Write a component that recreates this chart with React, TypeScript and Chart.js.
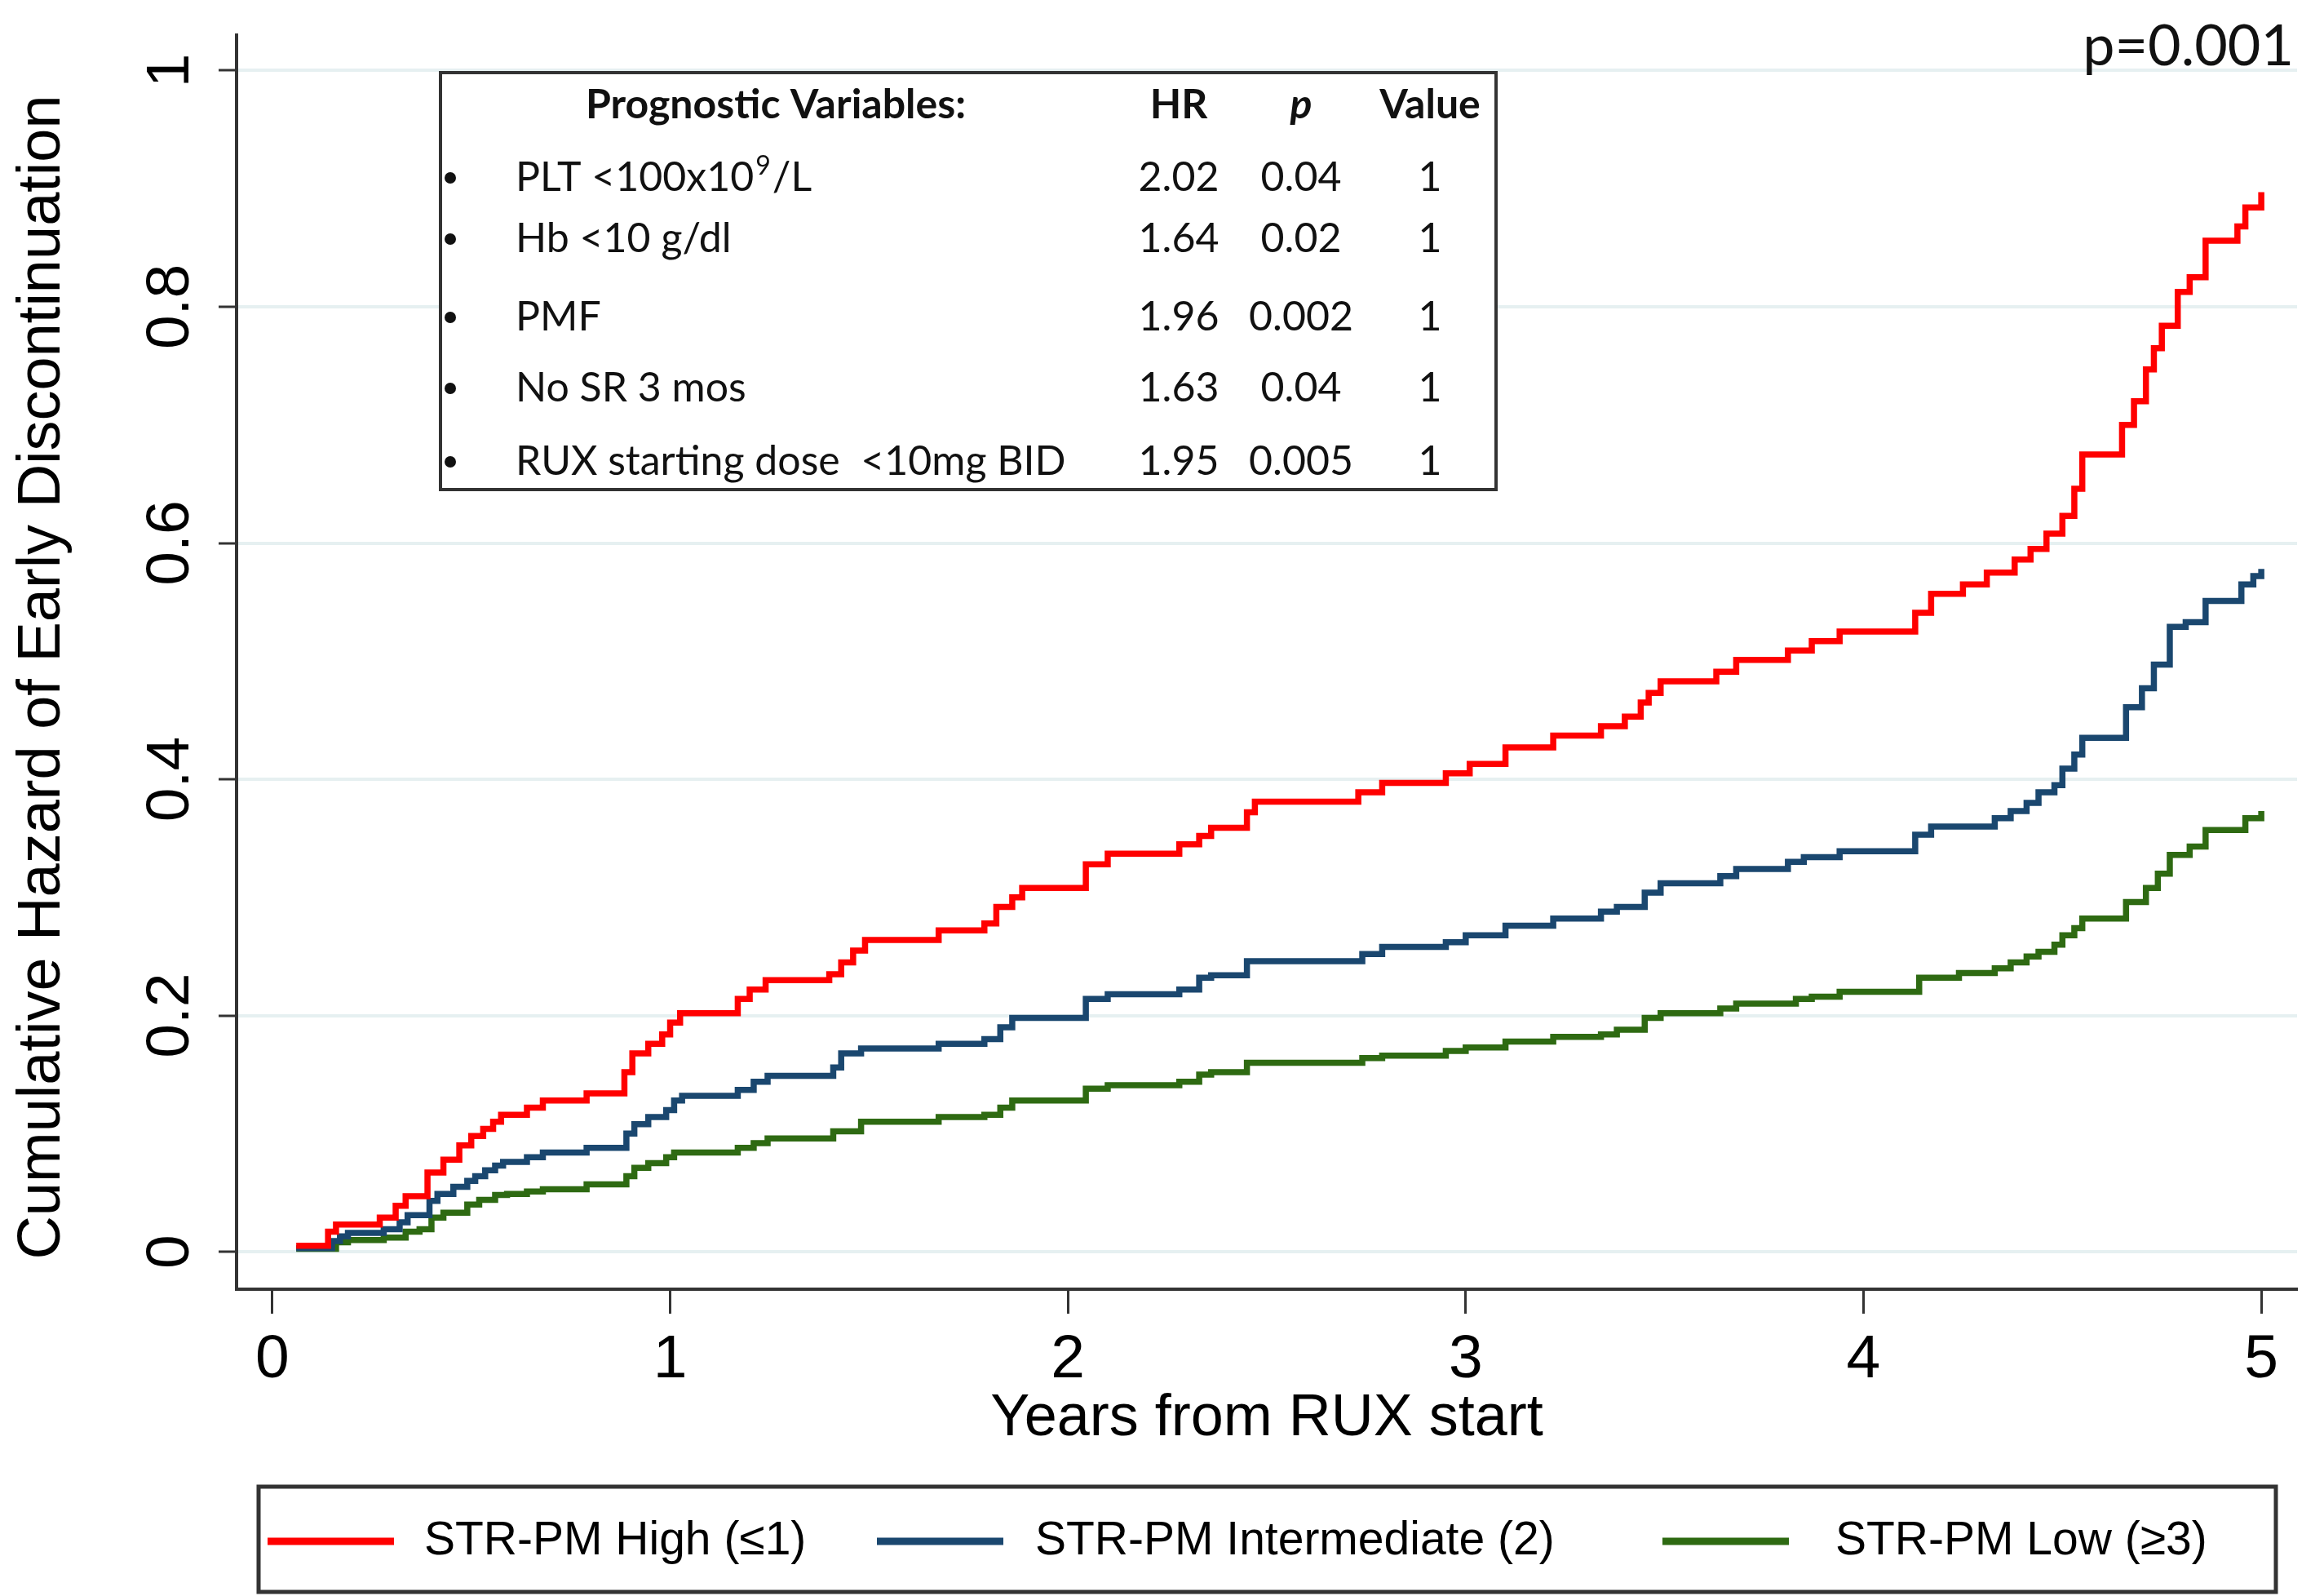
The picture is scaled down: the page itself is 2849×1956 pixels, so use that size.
import React, { useEffect, useRef } from "react";
import { Chart, registerables } from "chart.js";

Chart.register(...registerables);

// ---------------- data ----------------
const highTimes = [0.06, 0.14, 0.16, 0.27, 0.31, 0.335, 0.39, 0.43, 0.47, 0.5, 0.53, 0.555, 0.575, 0.64, 0.68, 0.79, 0.885, 0.905, 0.945, 0.98, 1.0, 1.025, 1.17, 1.2, 1.24, 1.4, 1.43, 1.46, 1.49, 1.675, 1.79, 1.82, 1.86, 1.885, 2.045, 2.1, 2.28, 2.33, 2.36, 2.45, 2.47, 2.73, 2.79, 2.95, 3.01, 3.1, 3.22, 3.34, 3.4, 3.44, 3.46, 3.49, 3.63, 3.68, 3.81, 3.87, 3.94, 4.13, 4.17, 4.25, 4.31, 4.38, 4.42, 4.46, 4.5, 4.53, 4.55, 4.65, 4.68, 4.71, 4.73, 4.75, 4.79, 4.82, 4.86, 4.94, 4.96, 5.0];
const highValues = [0.005, 0.017, 0.023, 0.029, 0.039, 0.047, 0.067, 0.078, 0.09, 0.098, 0.104, 0.11, 0.116, 0.122, 0.128, 0.134, 0.152, 0.168, 0.176, 0.184, 0.194, 0.202, 0.214, 0.222, 0.23, 0.235, 0.245, 0.255, 0.264, 0.272, 0.278, 0.292, 0.3, 0.308, 0.328, 0.337, 0.345, 0.352, 0.359, 0.372, 0.381, 0.389, 0.397, 0.405, 0.413, 0.427, 0.437, 0.445, 0.453, 0.465, 0.473, 0.483, 0.491, 0.501, 0.509, 0.517, 0.525, 0.541, 0.557, 0.565, 0.575, 0.586, 0.595, 0.608, 0.623, 0.646, 0.675, 0.7, 0.72, 0.747, 0.765, 0.784, 0.8125, 0.825, 0.856, 0.868, 0.884, 0.897];

const intermediateTimes = [0.06, 0.15, 0.17, 0.19, 0.28, 0.32, 0.34, 0.395, 0.415, 0.455, 0.49, 0.51, 0.535, 0.56, 0.58, 0.64, 0.68, 0.79, 0.89, 0.91, 0.945, 0.99, 1.01, 1.03, 1.17, 1.21, 1.245, 1.41, 1.43, 1.48, 1.675, 1.79, 1.83, 1.86, 2.045, 2.1, 2.28, 2.33, 2.36, 2.45, 2.74, 2.79, 2.95, 3.0, 3.1, 3.22, 3.34, 3.38, 3.45, 3.49, 3.64, 3.68, 3.81, 3.85, 3.94, 4.13, 4.17, 4.33, 4.37, 4.41, 4.44, 4.48, 4.5, 4.53, 4.55, 4.66, 4.7, 4.73, 4.77, 4.81, 4.86, 4.95, 4.98, 5.0];
const intermediateValues = [0.003, 0.009, 0.013, 0.016, 0.019, 0.025, 0.031, 0.043, 0.049, 0.055, 0.06, 0.064, 0.069, 0.073, 0.076, 0.08, 0.084, 0.088, 0.1, 0.108, 0.114, 0.12, 0.128, 0.132, 0.137, 0.144, 0.149, 0.156, 0.168, 0.172, 0.176, 0.18, 0.19, 0.198, 0.214, 0.218, 0.222, 0.232, 0.234, 0.246, 0.252, 0.258, 0.262, 0.268, 0.276, 0.282, 0.288, 0.292, 0.304, 0.312, 0.318, 0.324, 0.33, 0.334, 0.339, 0.353, 0.36, 0.367, 0.373, 0.38, 0.389, 0.395, 0.409, 0.421, 0.435, 0.461, 0.477, 0.497, 0.529, 0.533, 0.551, 0.565, 0.572, 0.578];

const lowTimes = [0.06, 0.16, 0.19, 0.28, 0.335, 0.37, 0.4, 0.43, 0.49, 0.52, 0.56, 0.59, 0.64, 0.68, 0.79, 0.89, 0.91, 0.945, 0.99, 1.01, 1.17, 1.21, 1.245, 1.41, 1.48, 1.675, 1.79, 1.83, 1.86, 2.045, 2.1, 2.28, 2.33, 2.36, 2.45, 2.74, 2.79, 2.95, 3.0, 3.1, 3.22, 3.34, 3.38, 3.45, 3.49, 3.64, 3.68, 3.83, 3.87, 3.94, 4.14, 4.24, 4.33, 4.37, 4.41, 4.44, 4.48, 4.5, 4.53, 4.55, 4.66, 4.71, 4.74, 4.77, 4.82, 4.86, 4.96, 5.0];
const lowValues = [0.0025, 0.008, 0.01, 0.012, 0.017, 0.019, 0.029, 0.033, 0.04, 0.044, 0.048, 0.049, 0.051, 0.053, 0.057, 0.064, 0.071, 0.075, 0.08, 0.084, 0.088, 0.092, 0.096, 0.102, 0.11, 0.114, 0.116, 0.122, 0.128, 0.138, 0.141, 0.144, 0.15, 0.152, 0.16, 0.164, 0.166, 0.17, 0.173, 0.178, 0.182, 0.184, 0.188, 0.198, 0.202, 0.206, 0.21, 0.214, 0.216, 0.22, 0.232, 0.236, 0.24, 0.245, 0.25, 0.254, 0.26, 0.268, 0.274, 0.282, 0.296, 0.308, 0.32, 0.336, 0.343, 0.357, 0.367, 0.373];

const seriesLabels = ["STR-PM High (\u22641)", "STR-PM Intermediate (2)", "STR-PM Low (\u22653)"];
const seriesTimes = [highTimes, intermediateTimes, lowTimes];
const seriesValues = [highValues, intermediateValues, lowValues];

const xAxisTitle = "Years from RUX start";
const yAxisTitle = "Cumulative Hazard of Early Discontinuation";
const pValueText = "p=0.001";

const tableHeaders = ["Prognostic Variables:", "HR", "p", "Value"];
// first variable is drawn as "PLT <100x10" + superscript "9" + "/L"
const tableVariables = ["PLT <100x10|9|/L", "Hb <10 g/dl", "PMF", "No SR 3 mos", "RUX starting dose  <10mg BID"];
const tableHR = ["2.02", "1.64", "1.96", "1.63", "1.95"];
const tableP = ["0.04", "0.02", "0.002", "0.04", "0.005"];
const tableValue = ["1", "1", "1", "1", "1"];

// ---------------- styles / layout ----------------
const W = 2849;
const H = 1956;
const COLORS = ["#ff0000", "#1a476f", "#2e6a12"];
const SANS = '"Liberation Sans", Arial, sans-serif';
const TABLE_FONT = 'Lato, "Open Sans", sans-serif';
const TABLE_BOX = { left: 540, top: 89, right: 1834, bottom: 600 };
const TABLE_HEADER_Y = 129;
const TABLE_ROW_Y = [218, 293, 389, 476, 566];
const TABLE_COLS = { bullet: 552, text: 632, header: 951, hr: 1445, p: 1595, value: 1753 };
const LEGEND_BOX = { left: 317, top: 1822, right: 2790, bottom: 1951 };
const LEGEND_SAMPLE_X = [328, 1075, 2038];
const LEGEND_TEXT_X = [520, 1269, 2250];
const LEGEND_Y = 1889;
const Y_TITLE_POS = { x: 53, y: 830 };

const fmtY = (v: number) => String(Number(v.toFixed(1)));

const overlayPlugin = {
  id: "overlay",
  afterDraw(chart: any) {
    const ctx: CanvasRenderingContext2D = chart.ctx;
    const ca = chart.chartArea;
    const ys = chart.scales.y;

    // y tick labels (rotated, as in Stata)
    ctx.save();
    ctx.fillStyle = "#000";
    ctx.font = `75px ${SANS}`;
    ctx.textAlign = "center";
    ctx.textBaseline = "alphabetic";
    ys.ticks.forEach((t: any) => {
      const py = ys.getPixelForValue(t.value);
      ctx.save();
      ctx.translate(ca.left - 59, py);
      ctx.rotate(-Math.PI / 2);
      ctx.fillText(fmtY(t.value), 0, 0);
      ctx.restore();
    });
    // y axis title
    ctx.font = `74px ${SANS}`;
    ctx.textBaseline = "middle";
    ctx.save();
    ctx.translate(Y_TITLE_POS.x, Y_TITLE_POS.y);
    ctx.rotate(-Math.PI / 2);
    ctx.fillText(yAxisTitle, 0, 0);
    ctx.restore();
    ctx.restore();

    // p-value
    ctx.save();
    ctx.fillStyle = "#111";
    ctx.font = `70px ${TABLE_FONT}`;
    ctx.textAlign = "right";
    ctx.textBaseline = "alphabetic";
    ctx.fillText(pValueText, ca.right - 4, 80);
    ctx.restore();

    // prognostic table
    ctx.save();
    const b = TABLE_BOX;
    ctx.fillStyle = "#fff";
    ctx.fillRect(b.left, b.top, b.right - b.left, b.bottom - b.top);
    ctx.strokeStyle = "#333";
    ctx.lineWidth = 4;
    ctx.strokeRect(b.left, b.top, b.right - b.left, b.bottom - b.top);
    ctx.fillStyle = "#111";
    ctx.textBaseline = "middle";
    ctx.font = `bold 50px ${TABLE_FONT}`;
    ctx.textAlign = "center";
    ctx.fillText(tableHeaders[0], TABLE_COLS.header, TABLE_HEADER_Y);
    ctx.fillText(tableHeaders[1], TABLE_COLS.hr, TABLE_HEADER_Y);
    ctx.font = `italic bold 50px ${TABLE_FONT}`;
    ctx.fillText(tableHeaders[2], TABLE_COLS.p, TABLE_HEADER_Y);
    ctx.font = `bold 50px ${TABLE_FONT}`;
    ctx.fillText(tableHeaders[3], TABLE_COLS.value, TABLE_HEADER_Y);
    TABLE_ROW_Y.forEach((y, i) => {
      ctx.beginPath();
      ctx.arc(TABLE_COLS.bullet, y, 7, 0, Math.PI * 2);
      ctx.fill();
      ctx.font = `50px ${TABLE_FONT}`;
      ctx.textAlign = "left";
      const parts = tableVariables[i].split("|");
      let x = TABLE_COLS.text;
      parts.forEach((part, k) => {
        if (k % 2 === 1) {
          ctx.font = `32px ${TABLE_FONT}`;
          ctx.fillText(part, x + 2, y - 14);
          x += ctx.measureText(part).width + 4;
          ctx.font = `50px ${TABLE_FONT}`;
        } else {
          ctx.fillText(part, x, y);
          x += ctx.measureText(part).width;
        }
      });
      ctx.textAlign = "center";
      ctx.fillText(tableHR[i], TABLE_COLS.hr, y);
      ctx.fillText(tableP[i], TABLE_COLS.p, y);
      ctx.fillText(tableValue[i], TABLE_COLS.value, y);
    });
    ctx.restore();

    // legend
    ctx.save();
    const l = LEGEND_BOX;
    ctx.fillStyle = "#fff";
    ctx.fillRect(l.left, l.top, l.right - l.left, l.bottom - l.top);
    ctx.strokeStyle = "#333";
    ctx.lineWidth = 5;
    ctx.strokeRect(l.left, l.top, l.right - l.left, l.bottom - l.top);
    ctx.font = `57px ${SANS}`;
    ctx.textAlign = "left";
    ctx.textBaseline = "middle";
    chart.data.datasets.forEach((ds: any, i: number) => {
      ctx.strokeStyle = ds.borderColor;
      ctx.lineWidth = 9;
      ctx.beginPath();
      ctx.moveTo(LEGEND_SAMPLE_X[i], LEGEND_Y);
      ctx.lineTo(LEGEND_SAMPLE_X[i] + 155, LEGEND_Y);
      ctx.stroke();
      ctx.fillStyle = "#000";
      ctx.fillText(ds.label, LEGEND_TEXT_X[i], LEGEND_Y);
    });
    ctx.restore();
  },
};

export default function App() {
  const ref = useRef<HTMLCanvasElement | null>(null);
  useEffect(() => {
    if (!ref.current) return;
    const chart = new Chart(ref.current, {
      type: "line",
      data: {
        datasets: seriesLabels.map((label, i) => ({
          label,
          data: seriesTimes[i].map((t, j) => ({ x: t, y: seriesValues[i][j] })),
          borderColor: COLORS[i],
          backgroundColor: COLORS[i],
          borderWidth: 7.5,
          pointRadius: 0,
          stepped: true,
          fill: false,
        })),
      },
      options: {
        responsive: false,
        animation: false,
        devicePixelRatio: 1,
        layout: { padding: { top: 43, right: 33, bottom: 174, left: 0 } },
        plugins: { legend: { display: false }, tooltip: { enabled: false } },
        scales: {
          x: {
            type: "linear",
            min: -0.09,
            max: 5.09,
            afterFit: (s: any) => { s.height = 202; },
            ticks: { stepSize: 1, includeBounds: false, color: "#000", font: { size: 75, family: SANS }, padding: 12 },
            grid: { display: true, drawOnChartArea: false, drawTicks: true, tickLength: 30, tickWidth: 3, tickColor: "#333" },
            border: { display: true, color: "#333", width: 4 },
            title: { display: true, text: xAxisTitle, color: "#000", font: { size: 72, family: SANS }, padding: { top: 0, bottom: 0 } },
          },
          y: {
            type: "linear",
            min: -0.0317,
            max: 1.03,
            afterFit: (s: any) => { s.width = 290; },
            ticks: { stepSize: 0.2, includeBounds: false, display: false },
            grid: { color: "#e6f0f1", lineWidth: 4, drawTicks: true, tickLength: 22, tickWidth: 3, tickColor: "#333" },
            border: { display: true, color: "#333", width: 4 },
            title: { display: false, text: yAxisTitle },
          },
        },
      } as any,
      plugins: [overlayPlugin],
    });
    return () => chart.destroy();
  }, []);
  return (
    <div style={{ position: "fixed", left: 0, top: 0, width: W, height: H, background: "#fff" }}>
      <canvas ref={ref} width={W} height={H} style={{ display: "block", width: W, height: H }} />
    </div>
  );
}
